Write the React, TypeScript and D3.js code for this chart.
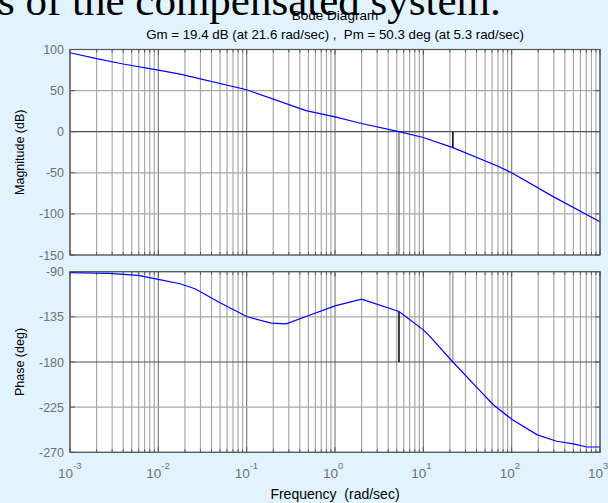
import React from "react";
import * as d3 from "d3";

const magFreq = [0.001, 0.002, 0.004, 0.01, 0.0176, 0.1, 0.47, 1, 2, 5.3, 10, 21.6, 69, 100, 295, 1000];
const magDb = [96, 89, 82.4, 75, 70, 51, 25.6, 18, 10, 0, -7, -19.4, -41.7, -50, -79, -109.5];

const phFreq = [0.001, 0.0028, 0.0059, 0.01, 0.0176, 0.026, 0.05, 0.1, 0.19, 0.28, 0.47, 1, 2, 5.3, 10, 12, 21.6, 41, 62, 100, 195, 324, 500, 708, 1000];
const phDeg = [-91, -91.6, -93.6, -97.6, -102, -107, -121, -134.7, -141.3, -142, -134.7, -124, -117.3, -129.7, -148, -155, -180, -206, -222.6, -237, -252.6, -259, -261.6, -264.7, -264.7];

const magTicks = [100, 50, 0, -50, -100, -150];
const phTicks = [-90, -135, -180, -225, -270];
const decadeExps = [-3, -2, -1, 0, 1, 2, 3];

const gm = { db: 19.4, w: 21.6 };
const pm = { deg: 50.3, w: 5.3 };

const W = 608, H = 503;
const L = 70, R = 600;
const magTop = 49.5, magBot = 255;
const phTop = 271.7, phBot = 452.3;
const FONT = "'Liberation Sans', Arial, sans-serif";

export default function App() {
  const x = d3.scaleLog().domain([1e-3, 1e3]).range([L, R]);
  const yM = d3.scaleLinear().domain([-150, 100]).range([magBot, magTop]);
  const yP = d3.scaleLinear().domain([-270, -90]).range([phBot, phTop]);

  const gridVals: number[] = [];
  for (let e = -3; e < 3; e++) for (let k = 1; k <= 9; k++) gridVals.push(k * Math.pow(10, e));
  gridVals.push(1000);

  const magLine = d3.line<number>().x((_, i) => x(magFreq[i])).y((d) => yM(d))(magDb) || "";
  const phLine = d3.line<number>().x((_, i) => x(phFreq[i])).y((d) => yP(d))(phDeg) || "";

  const isMajor = (v: number) => Math.abs(Math.log10(v) - Math.round(Math.log10(v))) < 1e-6;

  const panel = (top: number, bot: number, ticks: number[], y: (v: number) => number, dark: number, key: string) => (
    <g key={key}>
      <rect x={L} y={top} width={R - L} height={bot - top} fill="#fff" />
      {gridVals.map((v, i) => (
        <line key={"v" + i} x1={x(v)} x2={x(v)} y1={top} y2={bot} stroke={isMajor(v) ? "#808080" : "#a8a8a8"} strokeWidth={1.2} />
      ))}
      {ticks.map((t) => (
        <line key={"h" + t} x1={L} x2={R} y1={y(t)} y2={y(t)} stroke={t === dark ? "#505050" : "#a8a8a8"} strokeWidth={1.2} />
      ))}
      {gridVals.map((v, i) => {
        const len = isMajor(v) ? 5 : 3;
        return (
          <g key={"t" + i}>
            <line x1={x(v)} x2={x(v)} y1={top} y2={top + len} stroke="#555" strokeWidth={1} />
            <line x1={x(v)} x2={x(v)} y1={bot} y2={bot - len} stroke="#555" strokeWidth={1} />
          </g>
        );
      })}
      {ticks.map((t) => (
        <g key={"yt" + t}>
          <line x1={L} x2={L + 5} y1={y(t)} y2={y(t)} stroke="#555" />
          <line x1={R} x2={R - 5} y1={y(t)} y2={y(t)} stroke="#555" />
          <text x={64} y={y(t) + 4.5} textAnchor="end" fontSize={12.5} fill="#707070" fontFamily={FONT}>{t}</text>
        </g>
      ))}
    </g>
  );

  return (
    <svg width={W} height={H} style={{ position: "absolute", left: 0, top: 0 }} fontFamily={FONT}>
      <rect x={0} y={0} width={W} height={H} fill="#E1F3FF" />
      <text x={-2} y={15} fontSize={43} fontFamily="'Liberation Serif', 'Times New Roman', serif" fill="#000">s of the compensated system.</text>
      <text x={(L + R) / 2} y={20} textAnchor="middle" fontSize={13.5} fill="#000">Bode Diagram</text>
      <text x={(L + R) / 2} y={39} textAnchor="middle" fontSize={13.3} fill="#000" style={{ whiteSpace: "pre" }}>{`Gm = ${gm.db} dB (at ${gm.w} rad/sec) ,  Pm = ${pm.deg} deg (at ${pm.w} rad/sec)`}</text>

      {panel(magTop, magBot, magTicks, yM, 0, "mag")}
      {panel(phTop, phBot, phTicks, yP, -180, "ph")}

      <line x1={x(pm.w)} x2={x(pm.w)} y1={yM(0)} y2={magBot} stroke="#444" strokeWidth={1} />
      <line x1={x(gm.w)} x2={x(gm.w)} y1={phTop} y2={yP(-180)} stroke="#777" strokeWidth={1} />
      <line x1={x(gm.w)} x2={x(gm.w)} y1={yM(0)} y2={yM(-gm.db)} stroke="#000" strokeWidth={1.5} />
      <line x1={x(pm.w)} x2={x(pm.w)} y1={yP(-180)} y2={yP(-180 + pm.deg)} stroke="#000" strokeWidth={1.5} />

      <path d={magLine} fill="none" stroke="#0000ff" strokeWidth={1.2} />
      <path d={phLine} fill="none" stroke="#0000ff" strokeWidth={1.2} />

      <rect x={L} y={magTop} width={R - L} height={magBot - magTop} fill="none" stroke="#555" strokeWidth={1.2} />
      <rect x={L} y={phTop} width={R - L} height={phBot - phTop} fill="none" stroke="#555" strokeWidth={1.2} />

      {decadeExps.map((e) => (
        <text key={e} x={x(Math.pow(10, e)) - 12} y={478} fontSize={13.5} fill="#707070">
          10<tspan dy={-9} fontSize={9.5}>{e}</tspan>
        </text>
      ))}

      <text transform={`translate(24,${(magTop + magBot) / 2}) rotate(-90)`} textAnchor="middle" fontSize={12.5} fill="#000">Magnitude (dB)</text>
      <text transform={`translate(24,${(phTop + phBot) / 2}) rotate(-90)`} textAnchor="middle" fontSize={12.5} fill="#000">Phase (deg)</text>
      <text x={(L + R) / 2} y={499} textAnchor="middle" fontSize={14} fill="#000" style={{ whiteSpace: "pre" }}>{"Frequency  (rad/sec)"}</text>
    </svg>
  );
}
